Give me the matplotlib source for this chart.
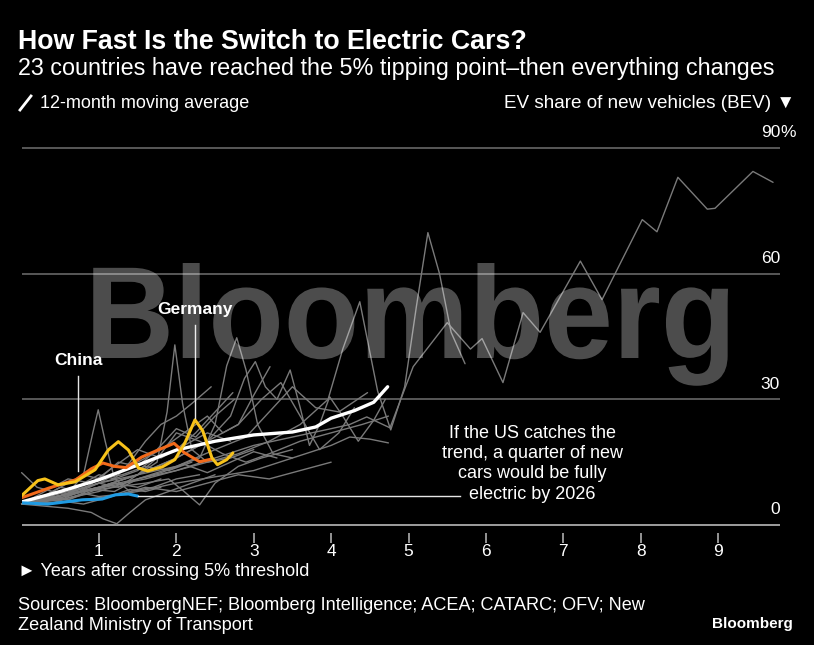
import matplotlib
matplotlib.use("Agg")
import matplotlib.pyplot as plt
from matplotlib import font_manager as fm
from matplotlib.textpath import TextPath
from matplotlib.patches import PathPatch
from matplotlib.path import Path
from matplotlib.lines import Line2D
import numpy as np

# ---------------- data (years after crossing 5%, BEV share %) ----------------
avg_x = [0, 0.5, 1.0, 1.5, 2.0, 2.5, 3.0, 3.5, 3.8, 4.0, 4.3, 4.55, 4.73]
avg_y = [5.5, 8.0, 10.8, 14.3, 17.9, 20.0, 21.5, 22.2, 23.4, 25.5, 27.3, 29.3, 33.0]

us_x = [0, 0.34, 0.78, 1.04, 1.21, 1.38, 1.5]
us_y = [5.3, 5.0, 6.0, 6.2, 7.2, 7.4, 6.9]

china_x = [0, 0.35, 0.7, 0.9, 1.05, 1.2, 1.35, 1.55, 1.75, 1.97, 2.1, 2.3, 2.47]
china_y = [6.5, 8.8, 10.8, 13.4, 14.8, 14.0, 13.7, 16.2, 17.8, 19.5, 17.3, 15.1, 15.8]

germany_x = [0, 0.21, 0.30, 0.47, 0.69, 0.95, 1.12, 1.25, 1.38, 1.51, 1.63, 1.82,
             1.98, 2.11, 2.24, 2.34, 2.46, 2.53, 2.65, 2.73]
germany_y = [7.0, 10.6, 11.0, 9.6, 10.3, 13.2, 17.9, 19.9, 17.9, 13.6, 12.9, 13.9,
             15.6, 19.6, 25.1, 22.5, 16.0, 14.4, 15.6, 17.2]

# other countries (grey)
g01_x = [0, 0.5, 1.0, 1.5, 2.0, 2.5, 3.0, 3.5, 4.0, 4.24, 4.46, 4.76, 5.06, 5.5, 5.8,
         5.95, 6.22, 6.48, 6.7, 7.22, 7.5, 8.02, 8.21, 8.48, 8.86, 8.96, 9.45, 9.71]
g01_y = [5, 6.5, 9, 11, 13, 16, 19, 21, 23, 24, 25.8, 23.2, 37.8, 48.3, 42, 44.5, 34,
         50.7, 46, 63, 53.8, 72.9, 70, 83, 75.4, 75.6, 84.4, 81.8]
g02_x = [0, 0.4, 0.8, 1.2, 1.6, 2.0, 2.4, 2.8, 3.2, 3.6, 3.96, 4.15, 4.37, 4.6, 4.77,
         4.95, 5.1, 5.25, 5.4, 5.55, 5.73]
g02_y = [5, 6.5, 8, 9.5, 11, 13, 15, 17, 20, 24, 30, 42, 53.3, 32, 22.7, 33, 52, 69.8,
         60, 46, 38.5]
g03_x = [0, 0.5, 1.0, 1.5, 1.75, 1.88, 1.98, 2.08, 2.2, 2.4, 2.7, 3.0]
g03_y = [5, 7, 9, 12, 15, 27, 43, 29, 18, 15, 16, 18]
g04_x = [0, 0.3, 0.6, 0.8, 0.92, 0.99, 1.08, 1.2, 1.4, 1.7, 2.0, 2.3]
g04_y = [5, 6, 7.5, 12, 22, 27.5, 20, 11, 8, 9, 11, 12]
g05_x = [0, 0.5, 1.0, 1.5, 2.0, 2.3, 2.5, 2.65, 2.78, 2.9, 3.05, 3.25, 3.5]
g05_y = [5, 7, 10, 12, 14, 16, 24, 38, 44.7, 37, 24, 17, 16]
g06_x = [0, 0.5, 1.0, 1.5, 2.0, 2.4, 2.7, 2.88, 3.02, 3.15, 3.3, 3.47, 3.6, 3.72,
         3.85, 3.98, 4.15, 4.35, 4.55, 4.7]
g06_y = [5, 7, 9, 12, 16, 20, 26, 35, 39, 33, 30, 37, 28, 19, 24, 30.6, 26, 20, 25, 30]
g07_x = [0, 0.2, 0.4, 0.6, 0.8, 1.0, 1.2, 1.4, 1.6, 1.8, 2.0, 2.2, 2.45]
g07_y = [5, 6, 8, 7.5, 10, 12, 11, 15, 20, 24, 26, 29, 33]
g08_x = [0, 0.25, 0.5, 0.75, 1.0, 1.25, 1.5, 1.75, 2.0, 2.25, 2.5, 2.73]
g08_y = [5, 7, 6, 8, 10, 9, 12, 16, 18, 22, 27, 31.6]
g09_x = [0, 0.5, 1.0, 1.4, 1.8, 2.1, 2.4, 2.6, 2.8, 3.0, 3.21]
g09_y = [5, 7, 10, 14, 18, 22, 26, 22, 24, 31, 37.8]
g10_x = [0, 0.5, 1.0, 1.5, 2.0, 2.5, 2.9, 3.2, 3.5, 3.8, 4.1, 4.47]
g10_y = [5, 6, 8, 11, 14, 18, 21, 27, 33, 28, 27, 31.6]
g11_x = [0, 0.5, 1.0, 1.5, 2.0, 2.5, 3.0, 3.5, 4.0, 4.24, 4.5, 4.74]
g11_y = [5, 5.5, 6.5, 8, 10, 11.5, 13, 16, 19, 21, 20.5, 19.6]
g12_x = [0, 0.5, 1.0, 1.5, 2.0, 2.4, 2.8, 3.1, 3.35, 3.6, 3.85, 4.1, 4.3]
g12_y = [5, 7, 9, 12, 16, 20, 24, 30, 34, 26, 18, 22, 28]
g13_x = [0, 0.3, 0.6, 0.9, 1.05, 1.23, 1.4, 1.6, 1.9, 2.2, 2.5]
g13_y = [5, 4.5, 4, 3, 1.5, 0.3, 3, 6, 8, 10, 12]
g14_x = [0, 0.4, 0.8, 1.2, 1.6, 1.9, 2.1, 2.3, 2.5, 2.8, 3.1, 3.5]
g14_y = [5, 6, 8, 9, 10, 11, 8, 4.8, 10, 14, 16, 18]
g15_x = [0, 0.2, 0.4, 0.6, 0.8, 1.0, 1.2, 1.4, 1.6, 1.8]
g15_y = [5, 5.8, 5.2, 6.5, 7.5, 6.8, 7.2, 8.5, 8, 9]
g16_x = [0, 0.2, 0.4, 0.6, 0.8, 1.0, 1.3, 1.6, 1.9, 2.2]
g16_y = [12.5, 9, 8, 10, 12, 11, 12, 14, 13, 15]
g17_x = [0, 0.25, 0.5, 0.75, 1.0, 1.25, 1.5, 1.75, 2.0, 2.25, 2.5, 2.75]
g17_y = [5, 6.5, 9, 8, 11, 15, 14, 18, 23, 21, 26, 30]
g18_x = [0, 0.3, 0.6, 0.9, 1.2, 1.5, 1.8, 2.1, 2.4, 2.7, 3.0, 3.3]
g18_y = [5, 6.5, 6, 8.5, 8, 11, 12.5, 14.5, 12.5, 15, 17.5, 16]
g19_x = [0, 0.4, 0.8, 1.2, 1.5, 1.8, 2.0, 2.3, 2.6, 2.9, 3.2, 3.6, 4.0, 4.4, 4.74]
g19_y = [5, 7, 9, 11, 13, 17, 22, 20, 17, 15, 17, 20, 22, 24, 26]
g20_x = [0, 0.3, 0.6, 0.9, 1.2, 1.5, 1.8]
g20_y = [5, 7, 6, 8, 10, 9, 11]
g21_x = [0, 0.3, 0.6, 0.9, 1.2, 1.5, 1.8, 2.1, 2.4, 2.7]
g21_y = [5, 8, 11, 10, 14, 18, 16, 19, 22, 20]
g22_x = [0, 0.4, 0.8, 1.2, 1.6, 2.0, 2.4, 2.8, 3.2, 3.6, 4.0]
g22_y = [5, 6, 5, 7, 9, 8, 10, 12, 11, 13, 15]

gray_series = [(g01_x, g01_y), (g02_x, g02_y), (g03_x, g03_y), (g04_x, g04_y),
               (g05_x, g05_y), (g06_x, g06_y), (g07_x, g07_y), (g08_x, g08_y),
               (g09_x, g09_y), (g10_x, g10_y), (g11_x, g11_y), (g12_x, g12_y),
               (g13_x, g13_y), (g14_x, g14_y), (g15_x, g15_y), (g16_x, g16_y),
               (g17_x, g17_y), (g18_x, g18_y), (g19_x, g19_y), (g20_x, g20_y),
               (g21_x, g21_y), (g22_x, g22_y)]

y_gridlines = [30, 60, 90]
y_labels = ["30", "60", "90"]
x_ticks = [1, 2, 3, 4, 5, 6, 7, 8, 9]

title = "How Fast Is the Switch to Electric Cars?"
subtitle = "23 countries have reached the 5% tipping point\u2013then everything changes"
legend_text = "12-month moving average"
yaxis_title = "EV share of new vehicles (BEV) \u25bc"
xaxis_title = "\u25ba Years after crossing 5% threshold"
source_lines = ["Sources: BloombergNEF; Bloomberg Intelligence; ACEA; CATARC; OFV; New",
                "Zealand Ministry of Transport"]
us_note = "If the US catches the\ntrend, a quarter of new\ncars would be fully\nelectric by 2026"

# ---------------- fonts ----------------
names = {f.name for f in fm.fontManager.ttflist}
NARROW = "Liberation Sans Narrow" if "Liberation Sans Narrow" in names else "Liberation Sans"
HELV = "Liberation Sans"

W, H = 814, 645
fig = plt.figure(figsize=(W / 100, H / 100), dpi=100, facecolor="black")


def fx(px):
    return px / W


def fy(py):
    return 1 - py / H


# axes geometry: x 0 at px 21.6, 77.39 px/yr ; y 0 at px 525, 4.189 px/pt
X0, XS = 21.6, 77.39
Y0, YS = 525.0, 4.189
xmax, ymin, ymax = 9.8, -2.0, 92.0
left_px = X0
right_px = X0 + xmax * XS
top_px = Y0 - ymax * YS
bot_px = Y0 - ymin * YS
ax = fig.add_axes([fx(left_px), fy(bot_px), (right_px - left_px) / W, (bot_px - top_px) / H])
ax.set_facecolor("black")
ax.set_xlim(0, xmax)
ax.set_ylim(ymin, ymax)
for s in ax.spines.values():
    s.set_visible(False)
ax.set_yticks([])
ax.set_xticks(x_ticks)
ax.set_xticklabels([str(t) for t in x_ticks])
ax.tick_params(axis="x", colors="#bdbdbd", length=7, width=1.1, pad=0.8,
               labelcolor="white", labelsize=12.5)
for lab in ax.get_xticklabels():
    lab.set_family([NARROW, "DejaVu Sans"])

# grid lines
for g in y_gridlines:
    ax.axhline(g, color="#6f6f6f", lw=1.1, zorder=1)
ax.axhline(0, color="#c8c8c8", lw=1.1, zorder=1)

# right labels
for g, lab in zip(y_gridlines, y_labels):
    ax.text(9.8, g + 3.6, lab, ha="right", va="center", color="white",
            fontsize=12.5, family=HELV)
ax.text(9.8, 90 + 3.6, "%", ha="left", va="center", color="white", fontsize=12.5, family=HELV)
ax.text(9.8, 0 + 3.6, "0", ha="right", va="center", color="white", fontsize=12.5, family=HELV)

# lines
for xs, ys in gray_series:
    ax.plot(xs, ys, color="#7a7a7a", lw=1.0, zorder=2, solid_joinstyle="round",
            solid_capstyle="round", clip_on=False)
ax.plot(avg_x, avg_y, color="white", lw=2.4, zorder=4, solid_joinstyle="round",
        solid_capstyle="round")
ax.plot(us_x, us_y, color="#1f9be3", lw=2.2, zorder=5, solid_joinstyle="round",
        solid_capstyle="round")
ax.plot(china_x, china_y, color="#f26a1b", lw=2.2, zorder=6, solid_joinstyle="round",
        solid_capstyle="round")
ax.plot(germany_x, germany_y, color="#f7c21a", lw=2.2, zorder=7, solid_joinstyle="round",
        solid_capstyle="round")

# annotations
ax.plot([0.73, 0.73], [13.0, 35.5], color="#e6e6e6", lw=1.0, zorder=8)
ax.text(0.73, 39.3, "China", ha="center", va="center", color="white", fontsize=12.5,
        fontweight="bold", family=HELV, zorder=12)
ax.plot([2.24, 2.24], [25.6, 47.8], color="#e6e6e6", lw=1.0, zorder=8)
ax.text(2.24, 51.5, "Germany", ha="center", va="center", color="white", fontsize=12.5,
        fontweight="bold", family=HELV, zorder=12)
ax.plot([us_x[-1], 5.67], [us_y[-1], us_y[-1]], color="#e6e6e6", lw=1.0, zorder=8)
ax.text(6.6, 14.6, us_note, ha="center", va="center", color="white", fontsize=13,
        family=HELV, linespacing=1.25, zorder=12)

# watermark
fp = fm.FontProperties(family=HELV, weight="bold")
tp = TextPath((0, 0), "Bloomberg", size=100, prop=fp)
v = tp.vertices.copy()
xmin_p, xmax_p = v[:, 0].min(), v[:, 0].max()
ytop_p = v[:, 1].max()
wx0, wx1 = 85.0, 728.0
wbase, wtop = 358.0, 263.0
sx = (wx1 - wx0) / (xmax_p - xmin_p)
sy = (wbase - wtop) / ytop_p
nv = np.empty_like(v)
nv[:, 0] = (wx0 + (v[:, 0] - xmin_p) * sx) / W
nv[:, 1] = 1 - (wbase - v[:, 1] * sy) / H
wm = PathPatch(Path(nv, tp.codes), facecolor="white", edgecolor="none", alpha=0.30,
               transform=fig.transFigure, zorder=10)
fig.patches.append(wm)

# header texts
fig.text(fx(18), fy(42), title, ha="left", va="center", color="white", fontsize=19.3,
         fontweight="bold", family=[NARROW, "DejaVu Sans"])
fig.text(fx(18), fy(68), subtitle, ha="left", va="center", color="white", fontsize=16.8,
         family=[NARROW, "DejaVu Sans"])
fig.lines.append(Line2D([fx(20), fx(31)], [fy(110), fy(96)], color="white", lw=2.0,
                        transform=fig.transFigure))
fig.text(fx(40), fy(103), legend_text, ha="left", va="center", color="white", fontsize=13,
         family=[NARROW, "DejaVu Sans"])
fig.text(fx(795), fy(103), yaxis_title, ha="right", va="center", color="white",
         fontsize=13.6, family=[NARROW, "DejaVu Sans"])

# footer texts
fig.text(fx(18), fy(572), xaxis_title, ha="left", va="center", color="white", fontsize=13,
         family=[NARROW, "DejaVu Sans"])
fig.text(fx(18), fy(605), source_lines[0], ha="left", va="center", color="white",
         fontsize=13.1, family=[NARROW, "DejaVu Sans"])
fig.text(fx(18), fy(626), source_lines[1], ha="left", va="center", color="white",
         fontsize=13.1, family=[NARROW, "DejaVu Sans"])
fig.text(fx(793), fy(624), "Bloomberg", ha="right", va="center", color="white",
         fontsize=11, fontweight="bold", family=HELV)

fig.savefig("out.png", dpi=100, facecolor="black")
